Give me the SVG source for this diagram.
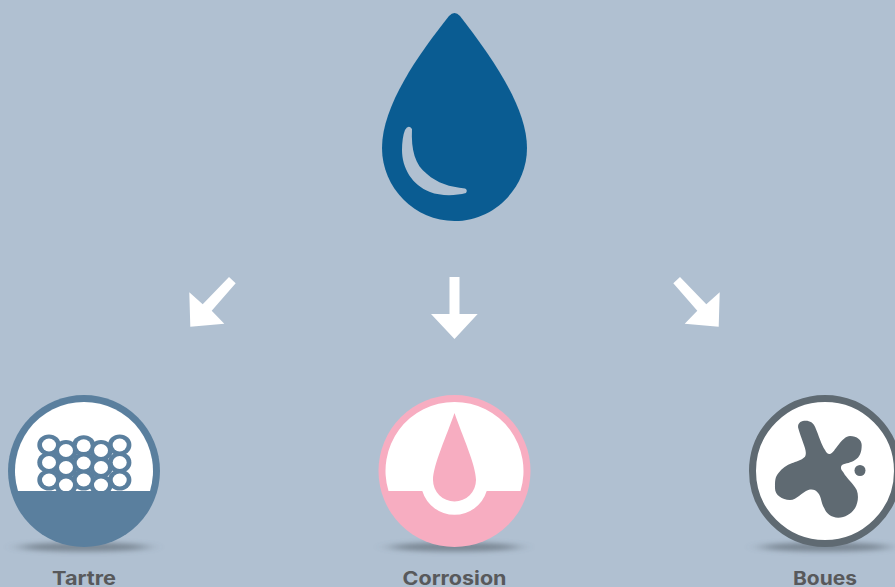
<svg xmlns="http://www.w3.org/2000/svg" width="895" height="587" viewBox="0 0 895 587">
<style>
.lbl{font-family:"Inter","Liberation Sans",sans-serif;font-weight:700;font-size:19px;fill:#58595b}
.arrow{fill:#fff}
.ro ellipse{fill:#5a7f9e;rx:11.7px;ry:10.500px}
.ri ellipse{fill:#fff;rx:7px;ry:6.400px}
.shadow{fill:#4f5a64;opacity:.55;filter:url(#blur)}
</style>
<defs>
<filter id="blur" x="-30%" y="-200%" width="160%" height="500%"><feGaussianBlur stdDeviation="9 2.500"/></filter>
<clipPath id="tc"><rect x="0" y="400" width="170" height="91"/></clipPath>
</defs>
<rect width="895" height="587" fill="#b0c0d1"/>
<g id="water-drop">
<path fill="#0a5c92" d="M449 16Q454.500 10 460 16C490 55 527 106 527 148C527 188 494 221 454.500 221C415 221 382 188 382 148C382 106 418 55 449 16Z"/>
<path fill="#b0c0d1" d="M405 130Q408.500 124 412 129C411 150 415 165 427 174C437 183 450 187 465 188.500Q468 190 466 193C455 196 440 196 430 192C412 185 402 168 402 150C402 142 403 135 405 130Z"/>
</g>
<g id="connectors">
<polygon class="arrow" points="229,277 235.700,283.300 211.700,310.700 224.300,323.700 190.300,326.700 189.300,292.300 202.700,304.300"/>
<polygon class="arrow" points="449.500,277 459.500,277 459.500,314 477.700,314 454.500,339 431,314 449.500,314"/>
<polygon class="arrow" points="680,277 673.300,283.300 697.300,310.700 684.700,323.700 718.700,326.700 719.700,292.300 706.300,304.300"/>
</g>
<g id="tartre">
<ellipse class="shadow" cx="84" cy="547" rx="64" ry="4.500"/>
<circle cx="84" cy="471" r="76" fill="#5a7f9e"/>
<path fill="#fff" d="M18 491A69 69 0 1 1 150 491Z"/>
<g clip-path="url(#tc)">
<g class="ro">
<ellipse cx="49" cy="445"/><ellipse cx="49" cy="462.500"/><ellipse cx="49" cy="480"/>
<ellipse cx="66" cy="450.500"/><ellipse cx="66" cy="467.500"/><ellipse cx="66" cy="485"/>
<ellipse cx="83.700" cy="445.700"/><ellipse cx="83.700" cy="463"/><ellipse cx="83.700" cy="480"/>
<ellipse cx="101" cy="450.500"/><ellipse cx="101" cy="467.500"/><ellipse cx="101" cy="485"/>
<ellipse cx="119.700" cy="445"/><ellipse cx="119.700" cy="462.500"/><ellipse cx="119.700" cy="480"/>
</g>
<g class="ri">
<ellipse cx="49" cy="445"/><ellipse cx="49" cy="462.500"/><ellipse cx="49" cy="480"/>
<ellipse cx="66" cy="450.500"/><ellipse cx="66" cy="467.500"/><ellipse cx="66" cy="485"/>
<ellipse cx="83.700" cy="445.700"/><ellipse cx="83.700" cy="463"/><ellipse cx="83.700" cy="480"/>
<ellipse cx="101" cy="450.500"/><ellipse cx="101" cy="467.500"/><ellipse cx="101" cy="485"/>
<ellipse cx="119.700" cy="445"/><ellipse cx="119.700" cy="462.500"/><ellipse cx="119.700" cy="480"/>
</g>
</g>
<text class="lbl" x="84" y="585" text-anchor="middle" textLength="64" lengthAdjust="spacingAndGlyphs">Tartre</text>
</g>
<g id="corrosion">
<ellipse class="shadow" cx="454.500" cy="547" rx="64" ry="4.500"/>
<circle cx="454.500" cy="471" r="76" fill="#f7adc1"/>
<path fill="#fff" d="M388.500 491A69 69 0 1 1 520.500 491H486.700A33.700 33.700 0 0 1 422.300 491Z"/>
<path fill="#f7adc1" d="M454.500 413C462 435 476 465 476 480A21.500 21.500 0 0 1 433 480C433 465 447 435 454.500 413Z"/>
<text class="lbl" x="454.500" y="585" text-anchor="middle" textLength="104" lengthAdjust="spacingAndGlyphs">Corrosion</text>
</g>
<g id="boues">
<ellipse class="shadow" cx="825" cy="547" rx="64" ry="4.500"/>
<circle cx="825" cy="471" r="72.500" fill="#fff" stroke="#5f6a72" stroke-width="7"/>
<path fill="#5f6a72" d="M798.300 428.300C797 423 801 420.700 805.700 420.700C810 420.700 813.500 423 815 426.700C819 436 821.500 445 825 450C826.500 453 828 454.500 830 454C833 453 835 449 838.300 445C842 440 846 436 850 436C857 436 861.700 440 861.700 445C861.700 452 860 457 855 460C851 463 846 463 842 465C840 467 841 470 843.300 472.300C847 479 853 483 856.700 490C859 496 858 503 855 508.300C851 514 845 517.700 838.300 517.700C831 517.700 826 513 824.300 508.300C821 503 821.500 497 818.300 493.300C815.500 489.500 812 489 808.300 490C802 492 797 500 790 500C782 500 775 495 775 488.300C775 481 775 477 778.300 473.300C782 468 787 465 791.700 463.300C796 461.500 801 460.500 805 456.700C807 453 805 448 803.300 443.300C801.500 438 799.500 433 798.300 428.300Z"/>
<circle cx="860" cy="470.500" r="5.500" fill="#5f6a72"/>
<text class="lbl" x="825" y="585" text-anchor="middle" textLength="64" lengthAdjust="spacingAndGlyphs">Boues</text>
</g>
</svg>
